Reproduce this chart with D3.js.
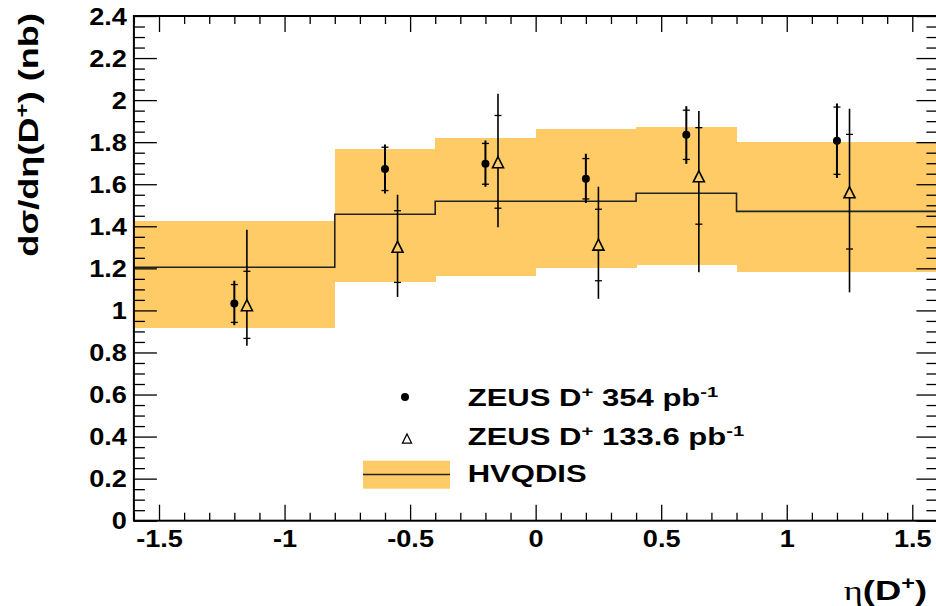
<!DOCTYPE html>
<html>
<head>
<meta charset="utf-8">
<script src="https://cdn.jsdelivr.net/npm/d3@7"></script>
<style>
  body { margin: 0; background: #fff; }
  text { font-family: "Liberation Sans", Arial, sans-serif; font-weight: bold; fill: #000; }
</style>
</head>
<body>
<div id="chart"></div>
<script>
// Data
// HVQDIS prediction, one value per eta bin
const binEdges = [-1.6, -0.8, -0.4, 0, 0.4, 0.8, 1.6];
const hvqCentral = [1.205, 1.457, 1.519, 1.519, 1.557, 1.471];
const hvqLow = [0.916, 1.133, 1.162, 1.202, 1.218, 1.183];
const hvqHigh = [1.427, 1.768, 1.821, 1.863, 1.873, 1.802];

// ZEUS D+ 354 pb-1 (full circles)
const etaA = [-1.2, -0.6, -0.2, 0.2, 0.6, 1.2];
const valA = [1.033, 1.673, 1.697, 1.626, 1.835, 1.807];
const statA = [0.09, 0.103, 0.097, 0.096, 0.117, 0.16];
const totUpA = [0.108, 0.116, 0.111, 0.119, 0.136, 0.177];
const totDnA = [0.103, 0.117, 0.109, 0.115, 0.138, 0.177];

// ZEUS D+ 133.6 pb-1 (open triangles)
const etaB = [-1.15, -0.55, -0.15, 0.25, 0.65, 1.25];
const valB = [1.022, 1.300, 1.702, 1.310, 1.635, 1.559];
const statUpB = [0.164, 0.174, 0.225, 0.171, 0.234, 0.278];
const statDnB = [0.155, 0.167, 0.216, 0.169, 0.225, 0.267];
const totUpB = [0.362, 0.250, 0.328, 0.278, 0.313, 0.400];
const totDnB = [0.190, 0.236, 0.307, 0.255, 0.454, 0.473];

// Axis ticks
const xTicks = [-1.5, -1, -0.5, 0, 0.5, 1, 1.5];
const xTickLabels = ['-1.5', '-1', '-0.5', '0', '0.5', '1', '1.5'];
const yTicks = [0, 0.2, 0.4, 0.6, 0.8, 1, 1.2, 1.4, 1.6, 1.8, 2, 2.2, 2.4];
const yTickLabels = ['0', '0.2', '0.4', '0.6', '0.8', '1', '1.2', '1.4', '1.6', '1.8', '2', '2.2', '2.4'];

const legendLabels = [['ZEUS D', '+', ' 354 pb', '-1'], ['ZEUS D', '+', ' 133.6 pb', '-1'], ['HVQDIS']];

// Layout
const W = 936, H = 606;
const margin = {top: 16, right: -1.4, bottom: 85.3, left: 133.9};
const w = W - margin.left - margin.right;
const h = H - margin.top - margin.bottom;
const band = '#fecb66';

let svg = d3.select('#chart')
  .append('svg')
    .attr('width', W)
    .attr('height', H);

let g = svg.append('g')
  .attr('transform', `translate(${margin.left}, ${margin.top})`);

let xScale = d3.scaleLinear().domain([-1.6, 1.6]).range([0, w]);
let yScale = d3.scaleLinear().domain([0, 2.4]).range([h, 0]);

// HVQDIS uncertainty band
g.selectAll('rect.band')
  .data(hvqCentral)
  .enter()
  .append('rect')
    .attr('class', 'band')
    .attr('x', (d, i) => xScale(binEdges[i]))
    .attr('width', (d, i) => xScale(binEdges[i + 1]) - xScale(binEdges[i]) + 0.6)
    .attr('y', (d, i) => yScale(hvqHigh[i]))
    .attr('height', (d, i) => yScale(hvqLow[i]) - yScale(hvqHigh[i]))
    .attr('fill', band)
    .attr('shape-rendering', 'crispEdges');

// central value as a step line
let stepPts = binEdges.map((e, i) => [e, hvqCentral[Math.min(i, hvqCentral.length - 1)]]);
g.append('path')
  .datum(stepPts)
  .attr('d', d3.line()
    .x(d => xScale(d[0]))
    .y(d => yScale(d[1]))
    .curve(d3.curveStepAfter))
  .attr('fill', 'none')
  .attr('stroke', '#222')
  .attr('stroke-width', 1.6);

// error bars: line to total error, small ticks at the statistical error
let errorBars = (eta, val, sUp, sDn, tUp, tDn, gap, sw) => {
  let eb = g.append('g');
  eta.forEach((e, i) => {
    let x = xScale(e);
    let y = yScale(val[i]);
    let segs = [[yScale(val[i] + tUp[i]), y - gap[0]], [y + gap[1], yScale(val[i] - tDn[i])]];
    segs.forEach(s => {
      eb.append('line')
        .attr('x1', x).attr('x2', x)
        .attr('y1', s[0]).attr('y2', s[1])
        .attr('stroke', '#000')
        .attr('stroke-width', sw);
    });
    [val[i] + sUp[i], val[i] - sDn[i]].forEach(v => {
      eb.append('line')
        .attr('x1', x - 3.5).attr('x2', x + 3.5)
        .attr('y1', yScale(v)).attr('y2', yScale(v))
        .attr('stroke', '#000')
        .attr('stroke-width', 1.3);
    });
  });
};

errorBars(etaA, valA, statA, statA, totUpA, totDnA, [0, 0], 2);
errorBars(etaB, valB, statUpB, statDnB, totUpB, totDnB, [5, 5], 1.6);

let triPath = (cx, cy, s) => `M${cx},${cy - s * 0.55} L${cx + s / 2},${cy + s * 0.45} L${cx - s / 2},${cy + s * 0.45} Z`;

g.selectAll('circle.zA')
  .data(valA)
  .enter()
  .append('circle')
    .attr('class', 'zA')
    .attr('cx', (d, i) => xScale(etaA[i]))
    .attr('cy', d => yScale(d))
    .attr('r', 4)
    .attr('fill', '#000');

g.selectAll('path.zB')
  .data(valB)
  .enter()
  .append('path')
    .attr('class', 'zB')
    .attr('d', (d, i) => triPath(xScale(etaB[i]), yScale(d), 11))
    .attr('fill', 'none')
    .attr('stroke', '#000')
    .attr('stroke-width', 1.6);

// Axes, ROOT style: ticks pointing inwards on all four sides
let minor = (lo, hi, step, majors) => d3.range(Math.round((hi - lo) / step) + 1)
  .map(i => +(lo + i * step).toFixed(3))
  .filter(v => !majors.some(m => Math.abs(m - v) < 1e-6));

let xMinor = minor(-1.6, 1.6, 0.1, xTicks);
let yMinor = minor(0, 2.4, 0.05, yTicks);

let axisGroup = (axis, tr) => {
  let a = g.append('g').attr('transform', tr).call(axis);
  a.select('.domain').remove();
  a.selectAll('line').attr('stroke', '#000').attr('stroke-width', 1.3);
  return a;
};

let xb = axisGroup(d3.axisBottom(xScale).tickValues(xTicks).tickSize(-16)
  .tickFormat((d, i) => xTickLabels[i]), `translate(0, ${h})`);
axisGroup(d3.axisBottom(xScale).tickValues(xMinor).tickSize(-8).tickFormat(''), `translate(0, ${h})`);
axisGroup(d3.axisTop(xScale).tickValues(xTicks).tickSize(-16).tickFormat(''), 'translate(0, 0)');
axisGroup(d3.axisTop(xScale).tickValues(xMinor).tickSize(-8).tickFormat(''), 'translate(0, 0)');

let yl = axisGroup(d3.axisLeft(yScale).tickValues(yTicks).tickSize(-23)
  .tickFormat((d, i) => yTickLabels[i]), 'translate(0, 0)');
axisGroup(d3.axisLeft(yScale).tickValues(yMinor).tickSize(-11).tickFormat(''), 'translate(0, 0)');
axisGroup(d3.axisRight(yScale).tickValues(yTicks).tickSize(-21).tickFormat(''), `translate(${w}, 0)`);
axisGroup(d3.axisRight(yScale).tickValues(yMinor).tickSize(-11).tickFormat(''), `translate(${w}, 0)`);

xb.selectAll('text')
  .attr('y', 0).attr('dy', 0)
  .attr('transform', 'translate(0, 26) scale(1.18, 1)')
  .style('font-size', '23px')
  .style('font-family', '"Liberation Sans", Arial, sans-serif');

yl.selectAll('text')
  .attr('x', 0).attr('dy', '0.36em')
  .attr('transform', 'translate(-7, 0) scale(1.18, 1)')
  .style('font-size', '23px')
  .style('font-family', '"Liberation Sans", Arial, sans-serif');

// frame
g.append('rect')
  .attr('width', w).attr('height', h)
  .attr('fill', 'none')
  .attr('stroke', '#000')
  .attr('stroke-width', 2);

// Legend
let leg = svg.append('g');
let legRows = [406, 445, 482];
leg.append('circle').attr('cx', 405).attr('cy', 397).attr('r', 4).attr('fill', '#000');
leg.append('path').attr('d', triPath(407, 439, 9)).attr('fill', 'none').attr('stroke', '#000').attr('stroke-width', 1.3);
leg.append('rect').attr('x', 363).attr('y', 460.7).attr('width', 87).attr('height', 28).attr('fill', band);
leg.append('line').attr('x1', 363).attr('x2', 450).attr('y1', 474.5).attr('y2', 474.5)
  .attr('stroke', '#222').attr('stroke-width', 1.6);

legendLabels.forEach((parts, i) => {
  let t = leg.append('g')
    .attr('transform', `translate(467.7, ${legRows[i]}) scale(1.35, 1)`)
    .append('text')
      .style('font-size', '23px');
  parts.forEach((p, j) => {
    t.append('tspan')
      .attr('dy', j == 0 ? 0 : (j % 2 == 1 ? -9 : 9))
      .style('font-size', j % 2 == 1 ? '15px' : '23px')
      .text(p);
  });
});

// Axis titles
let yt = svg.append('g')
  .attr('transform', 'translate(38, 13) rotate(-90) scale(1.34, 1)')
  .append('text')
    .attr('text-anchor', 'end')
    .style('font-size', '27px');
yt.append('tspan').text('dσ/dη(D');
yt.append('tspan').attr('dy', -10).style('font-size', '18px').text('+');
yt.append('tspan').attr('dy', 10).text(') (nb)');

let xt = svg.append('g')
  .attr('transform', 'translate(927, 600) scale(1.3, 1)')
  .append('text')
    .attr('text-anchor', 'end')
    .style('font-size', '28px');
xt.append('tspan').style('font-family', '"Liberation Serif", "DejaVu Serif", serif').style('font-weight', 'normal').text('η');
xt.append('tspan').text('(D');
xt.append('tspan').attr('dy', -11).style('font-size', '18px').text('+');
xt.append('tspan').attr('dy', 11).text(')');

// title, almost entirely above the top of the picture as in the reference
svg.append('g')
  .attr('transform', 'translate(457, -0.5) scale(1.3, 1)')
  .append('text')
    .style('font-size', '40px')
    .text('ZEUS');
</script>
</body>
</html>
